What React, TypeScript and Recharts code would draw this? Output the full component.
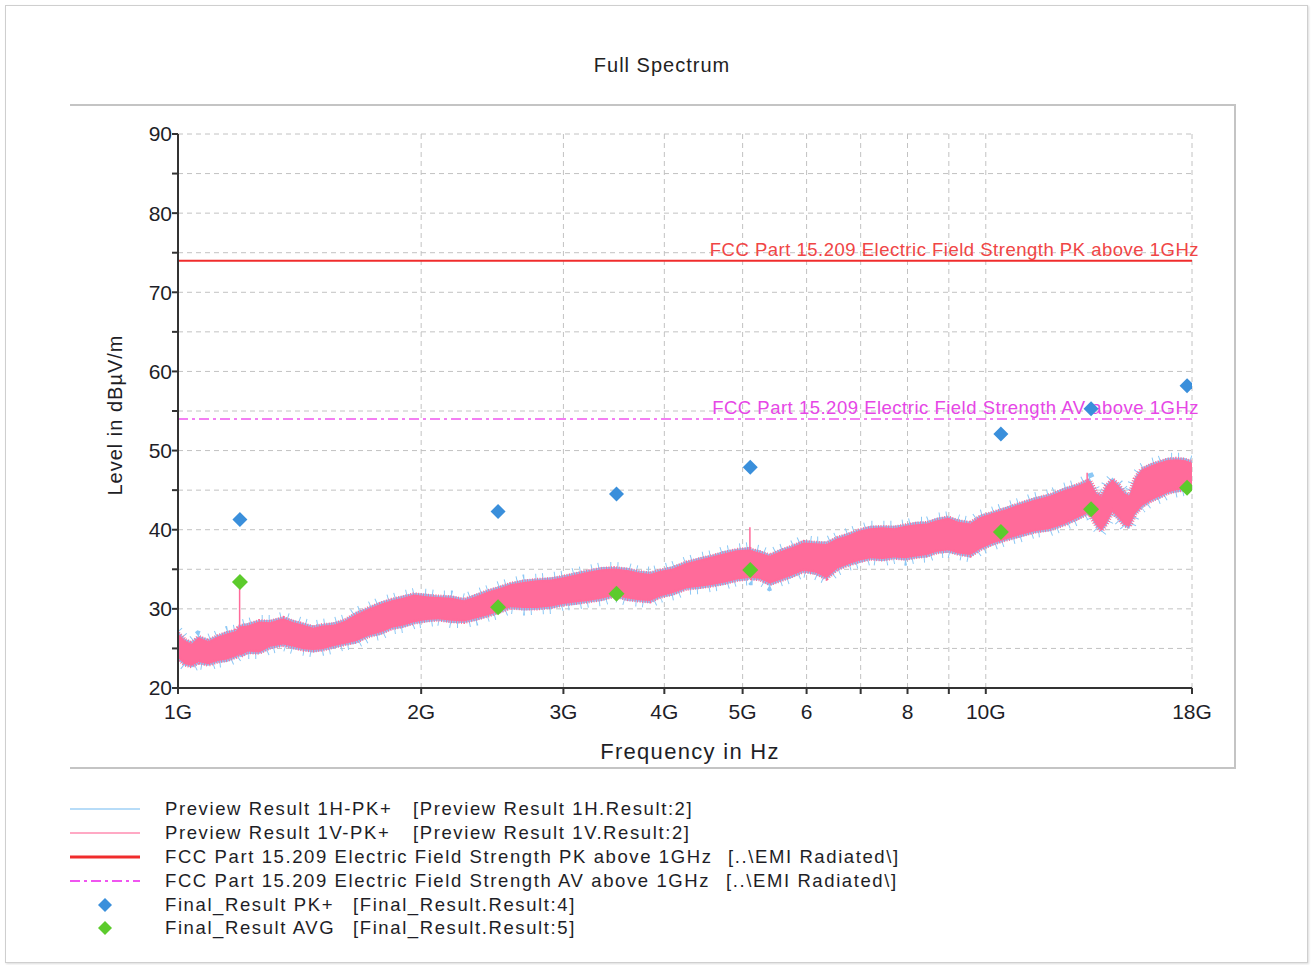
import { ComposedChart, Area, Scatter, XAxis, YAxis, CartesianGrid, ReferenceLine } from 'recharts';

const FONT = '"Liberation Sans", Arial, sans-serif';

// Preview scans: min / max envelope of each trace, frequency in GHz, level in dBµV/m
const FREQ_GHZ = [
  1.0, 1.02, 1.04, 1.06, 1.09, 1.12, 1.15, 1.18, 1.188, 1.192, 1.196, 1.22, 1.26, 1.3, 1.35, 1.39, 1.43, 1.47, 1.51, 1.56,
  1.61, 1.66, 1.72, 1.78, 1.84, 1.9, 1.96, 2.03, 2.1, 2.18, 2.26, 2.34, 2.42, 2.5, 2.58, 2.68, 2.78, 2.9, 3.0, 3.1,
  3.22, 3.35, 3.47, 3.6, 3.72, 3.84, 3.96, 4.1, 4.26, 4.42, 4.58, 4.74, 4.92, 5.08, 5.105, 5.13, 5.25, 5.4, 5.55, 5.75,
  5.95, 6.15, 6.35, 6.55, 6.75, 6.98, 7.2, 7.45, 7.7, 7.95, 8.2, 8.45, 8.7, 8.98, 9.25, 9.57, 9.85, 10.2, 10.6, 11.0,
  11.5, 12.0, 12.5, 13.0, 13.3, 13.35, 13.45, 13.7, 13.9, 14.1, 14.35, 14.6, 14.85, 15.05, 15.3, 15.6, 16.0, 16.4, 16.8, 17.2,
  17.6, 18.0,
];

const PREVIEW_V_LOW = [
  23.8, 23.0, 22.8, 23.3, 23.0, 23.4, 23.6, 24.0, 24.2, 24.3, 24.1, 24.6, 24.5, 25.2, 25.5, 25.2, 24.9, 24.8, 24.9, 25.3,
  25.6, 25.9, 26.6, 27.0, 27.6, 27.9, 28.3, 28.6, 28.7, 28.5, 28.4, 28.8, 29.2, 29.7, 30.2, 30.1, 30.1, 30.3, 30.6, 30.8,
  31.0, 31.3, 31.7, 31.3, 31.1, 31.0, 31.6, 32.0, 32.6, 32.8, 33.0, 33.3, 33.7, 33.9, 34.0, 33.9, 33.8, 33.2, 33.6, 34.2,
  34.8, 34.6, 33.9, 35.1, 35.6, 36.1, 36.4, 36.3, 36.5, 36.4, 36.6, 36.8, 37.2, 37.4, 37.0, 36.8, 37.6, 38.3, 38.8, 39.3,
  39.8, 40.1, 40.7, 41.5, 42.0, 42.1, 42.0, 40.6, 39.9, 40.8, 42.3, 41.5, 40.6, 40.4, 42.0, 43.0, 43.7, 44.2, 44.7, 45.0,
  45.1, 45.4,
];
const PREVIEW_V_HIGH = [
  26.9, 26.0, 25.6, 26.4, 25.9, 26.5, 26.9, 27.2, 27.6, 27.7, 27.8, 27.9, 28.4, 28.3, 28.8, 28.3, 28.0, 27.6, 27.9, 28.0,
  28.5, 29.3, 30.0, 30.6, 31.1, 31.4, 31.8, 31.6, 31.5, 31.4, 31.1, 31.6, 32.2, 32.6, 33.1, 33.4, 33.6, 33.7, 34.0, 34.3,
  34.7, 35.0, 35.1, 34.9, 34.6, 34.4, 34.8, 35.1, 35.8, 36.2, 36.6, 37.0, 37.4, 37.5, 37.5, 37.4, 37.1, 36.7, 37.2, 37.8,
  38.4, 38.3, 38.2, 38.9, 39.3, 39.9, 40.2, 40.3, 40.2, 40.5, 40.7, 40.8, 41.2, 41.5, 41.0, 40.8, 41.6, 42.1, 42.6, 43.2,
  43.8, 44.3, 45.0, 45.6, 46.0, 46.1, 46.2, 44.6, 44.2, 45.5, 46.3, 45.6, 44.6, 44.3, 46.4, 47.6, 48.1, 48.5, 48.8, 48.9,
  48.8, 48.5,
];

const PREVIEW_H_LOW = [
  23.5, 22.8, 22.6, 23.0, 22.8, 23.2, 23.3, 23.8, 24.0, 24.0, 23.9, 24.3, 24.3, 24.9, 25.3, 24.9, 24.7, 24.5, 24.7, 25.0,
  25.4, 25.6, 26.4, 26.7, 27.4, 27.6, 28.1, 28.3, 28.5, 28.2, 28.2, 28.5, 29.0, 29.4, 30.0, 29.8, 29.9, 30.0, 30.4, 30.5,
  30.8, 31.0, 31.5, 31.0, 30.9, 30.7, 31.4, 31.7, 32.4, 32.5, 32.8, 33.0, 33.5, 33.6, 33.8, 33.6, 33.6, 32.9, 33.4, 33.9,
  34.6, 34.3, 33.7, 34.8, 35.4, 35.8, 36.2, 36.0, 36.3, 36.1, 36.4, 36.5, 37.0, 37.1, 36.8, 36.5, 37.4, 38.0, 38.6, 39.0,
  39.6, 39.8, 40.5, 41.2, 41.8, 41.8, 41.8, 40.3, 39.7, 40.5, 42.1, 41.2, 40.4, 40.1, 41.8, 42.7, 43.5, 43.9, 44.5, 44.7,
  44.9, 45.1,
];
const PREVIEW_H_HIGH = [
  27.2, 26.2, 25.9, 26.6, 26.2, 26.7, 27.2, 27.4, 27.9, 28.0, 28.0, 28.2, 28.6, 28.6, 29.0, 28.6, 28.2, 27.9, 28.1, 28.3,
  28.7, 29.6, 30.2, 30.9, 31.3, 31.7, 32.0, 31.9, 31.7, 31.7, 31.3, 31.9, 32.4, 32.9, 33.3, 33.7, 33.8, 34.0, 34.2, 34.6,
  34.9, 35.3, 35.3, 35.2, 34.8, 34.7, 35.0, 35.4, 36.0, 36.5, 36.8, 37.3, 37.6, 37.8, 37.9, 37.6, 37.4, 36.9, 37.5, 38.0,
  38.7, 38.5, 38.5, 39.1, 39.6, 40.1, 40.5, 40.5, 40.5, 40.7, 41.0, 41.0, 41.5, 41.7, 41.3, 41.0, 41.9, 42.3, 42.9, 43.4,
  44.1, 44.5, 45.3, 45.8, 46.3, 46.4, 46.5, 44.8, 44.5, 45.7, 46.6, 45.8, 44.9, 44.5, 46.7, 47.8, 48.4, 48.7, 49.1, 49.1,
  49.1, 48.7,
];

// Narrow single-bin peaks on the 1V trace
const SPIKE_FREQ_GHZ = [1.192, 5.105, 13.35];
const SPIKE_BASE = [27.5, 37.3, 45.9];
const SPIKE_TOP = [32.6, 40.3, 47.2];

// Final measurements
const FINAL_FREQ_GHZ = [1.193, 2.49, 3.49, 5.11, 10.44, 13.5, 17.75];
const FINAL_PK = [41.3, 42.3, 44.5, 47.9, 52.1, 55.3, 58.2];
const FINAL_AVG = [33.4, 30.2, 31.9, 34.9, 39.7, 42.6, 45.3];

// FCC Part 15.209 limits above 1 GHz
const LIMIT_PK = 74;
const LIMIT_AV = 54;

const X_TICKS = [1, 2, 3, 4, 5, 6, 7, 8, 9, 10, 18];
const X_TICK_LABELS = ['1G', '2G', '3G', '4G', '5G', '6', '', '8', '', '10G', '18G'];
const Y_TICKS = [20, 25, 30, 35, 40, 45, 50, 55, 60, 65, 70, 75, 80, 85, 90];

const C_BLUE_TRACE = '#8cc8f5';
const C_PINK_TRACE = '#ff6b9a';
const C_LIMIT_PK = '#f02c2c';
const C_LIMIT_AV = '#f055f0';
const C_PK = '#3a8fdb';
const C_AVG = '#5ccb2c';

const traceData = FREQ_GHZ.map((f, i) => ({
  f,
  h: [PREVIEW_H_LOW[i], PREVIEW_H_HIGH[i]],
  v: [PREVIEW_V_LOW[i], PREVIEW_V_HIGH[i]],
}));
const pkData = FINAL_FREQ_GHZ.map((f, i) => ({ f, y: FINAL_PK[i] }));
const avgData = FINAL_FREQ_GHZ.map((f, i) => ({ f, y: FINAL_AVG[i] }));

const diamond = (cx: number, cy: number, fill: string, r = 8) => (
  <path d={`M${cx},${cy - r}L${cx + r},${cy}L${cx},${cy + r}L${cx - r},${cy}Z`} fill={fill} />
);

const limitLabel = (text: string, color: string) => (props: any) => {
  const vb = props.viewBox || {};
  return (
    <text
      x={vb.x + vb.width + 7}
      y={vb.y - 5}
      textAnchor="end"
      fill={color}
      fontSize={18.5}
      fontFamily={FONT}
      letterSpacing={0.5}
    >
      {text}
    </text>
  );
};

const LEGEND_ROWS = [
  { name: 'Preview Result 1H-PK+', ref: '[Preview Result 1H.Result:2]', refX: 413 },
  { name: 'Preview Result 1V-PK+', ref: '[Preview Result 1V.Result:2]', refX: 413 },
  { name: 'FCC Part 15.209 Electric Field Strength PK above 1GHz', ref: '[..\\EMI Radiated\\]', refX: 728 },
  { name: 'FCC Part 15.209 Electric Field Strength AV above 1GHz', ref: '[..\\EMI Radiated\\]', refX: 726 },
  { name: 'Final_Result PK+', ref: '[Final_Result.Result:4]', refX: 353 },
  { name: 'Final_Result AVG', ref: '[Final_Result.Result:5]', refX: 353 },
];
const LEGEND_Y = [809, 833, 857, 881, 905, 928];

const legendText: React.CSSProperties = {
  position: 'absolute',
  fontSize: 18.5,
  lineHeight: '22px',
  letterSpacing: 1.6,
  color: '#1e1e26',
  whiteSpace: 'nowrap',
};

export default function App() {
  return (
    <div style={{ position: 'absolute', left: 0, top: 0, width: 1314, height: 965, background: '#fff', fontFamily: FONT }}>
      <div style={{ position: 'absolute', left: 5, top: 5, width: 1301, height: 956, border: '1px solid #cfcfcf', boxShadow: '1px 1px 2px #dcdcdc' }} />

      <div style={{ position: 'absolute', left: 512, top: 53, width: 300, textAlign: 'center', fontSize: 20, lineHeight: '24px', letterSpacing: 1, color: '#222' }}>
        Full Spectrum
      </div>

      {/* panel frame */}
      <div style={{ position: 'absolute', left: 70, top: 104, width: 1166, height: 2, background: '#c4c4c4' }} />
      <div style={{ position: 'absolute', left: 1234, top: 104, width: 2, height: 665, background: '#c4c4c4' }} />
      <div style={{ position: 'absolute', left: 70, top: 767, width: 1166, height: 2, background: '#c4c4c4' }} />

      <div style={{ position: 'absolute', left: 0, top: 0 }}>
        <ComposedChart width={1314} height={760} data={traceData} margin={{ top: 134, right: 122, bottom: 42, left: 118 }}>
          <CartesianGrid stroke="#c2c2c2" strokeDasharray="5 4" />
          <XAxis
            dataKey="f"
            type="number"
            scale="log"
            domain={[1, 18]}
            ticks={X_TICKS}
            interval={0}
            allowDataOverflow
            height={30}
            tickSize={6}
            tickMargin={10}
            tickFormatter={(v: number) => X_TICK_LABELS[X_TICKS.indexOf(v)] ?? ''}
            tick={{ fill: '#1e1e28', fontSize: 21, fontFamily: FONT }}
            axisLine={{ stroke: '#333', strokeWidth: 2 }}
            tickLine={{ stroke: '#333', strokeWidth: 2 }}
          />
          <YAxis
            type="number"
            domain={[20, 90]}
            ticks={Y_TICKS}
            interval={0}
            width={60}
            tickSize={6}
            tickMargin={0}
            tickFormatter={(v: number) => (v % 10 === 0 ? String(v) : '')}
            tick={{ fill: '#1e1e28', fontSize: 21, fontFamily: FONT }}
            axisLine={{ stroke: '#333', strokeWidth: 2 }}
            tickLine={{ stroke: '#333', strokeWidth: 2 }}
          />
          {/* dashed wide strokes give the envelopes their hairy, noise-like edge */}
          <Area
            type="linear"
            dataKey="h"
            stroke={C_BLUE_TRACE}
            strokeWidth={10}
            strokeDasharray="1 6 1 11"
            fill={C_BLUE_TRACE}
            fillOpacity={1}
            dot={false}
            activeDot={false}
            isAnimationActive={false}
          />
          <Area
            type="linear"
            dataKey="v"
            stroke={C_PINK_TRACE}
            strokeWidth={5}
            strokeDasharray="1 1.5"
            fill={C_PINK_TRACE}
            fillOpacity={1}
            dot={false}
            activeDot={false}
            isAnimationActive={false}
          />
          {SPIKE_FREQ_GHZ.map((f, i) => (
            <ReferenceLine
              key={f}
              segment={[
                { x: f, y: SPIKE_BASE[i] },
                { x: f, y: SPIKE_TOP[i] },
              ]}
              stroke={C_PINK_TRACE}
              strokeWidth={1.5}
            />
          ))}
          <ReferenceLine
            y={LIMIT_PK}
            stroke={C_LIMIT_PK}
            strokeWidth={2}
            label={{ content: limitLabel('FCC Part 15.209 Electric Field Strength PK above 1GHz', '#f04545') }}
          />
          <ReferenceLine
            y={LIMIT_AV}
            stroke={C_LIMIT_AV}
            strokeWidth={1.5}
            strokeDasharray="10 4 3 4"
            label={{ content: limitLabel('FCC Part 15.209 Electric Field Strength AV above 1GHz', '#e646e6') }}
          />
          <Scatter data={pkData} dataKey="y" isAnimationActive={false} shape={(p: any) => diamond(p.cx, p.cy, C_PK, 7.5)} />
          <Scatter data={avgData} dataKey="y" isAnimationActive={false} shape={(p: any) => diamond(p.cx, p.cy, C_AVG, 8)} />
        </ComposedChart>
      </div>

      <div style={{ position: 'absolute', left: 490, top: 739, width: 400, textAlign: 'center', fontSize: 22, lineHeight: '26px', letterSpacing: 1.3, color: '#1e1e26' }}>
        Frequency in Hz
      </div>
      <div
        style={{
          position: 'absolute',
          left: 15,
          top: 403,
          width: 200,
          height: 24,
          textAlign: 'center',
          fontSize: 20,
          lineHeight: '24px',
          letterSpacing: 1,
          color: '#1e1e26',
          transform: 'rotate(-90deg)',
        }}
      >
        Level in dBµV/m
      </div>

      {/* legend */}
      <svg style={{ position: 'absolute', left: 0, top: 0 }} width={1314} height={965}>
        <line x1={70} x2={140} y1={LEGEND_Y[0]} y2={LEGEND_Y[0]} stroke="#9fd0f6" strokeWidth={1.5} />
        <line x1={70} x2={140} y1={LEGEND_Y[1]} y2={LEGEND_Y[1]} stroke="#ff8db0" strokeWidth={1.5} />
        <line x1={70} x2={140} y1={LEGEND_Y[2]} y2={LEGEND_Y[2]} stroke={C_LIMIT_PK} strokeWidth={3} />
        <line x1={70} x2={140} y1={LEGEND_Y[3]} y2={LEGEND_Y[3]} stroke={C_LIMIT_AV} strokeWidth={2} strokeDasharray="10 4 3 4" />
        {diamond(105, LEGEND_Y[4], C_PK, 7)}
        {diamond(105, LEGEND_Y[5], C_AVG, 7)}
      </svg>
      {LEGEND_ROWS.map((row, i) => (
        <div key={row.name}>
          <div style={{ ...legendText, left: 165, top: LEGEND_Y[i] - 11 }}>{row.name}</div>
          <div style={{ ...legendText, left: row.refX, top: LEGEND_Y[i] - 11 }}>{row.ref}</div>
        </div>
      ))}
    </div>
  );
}
